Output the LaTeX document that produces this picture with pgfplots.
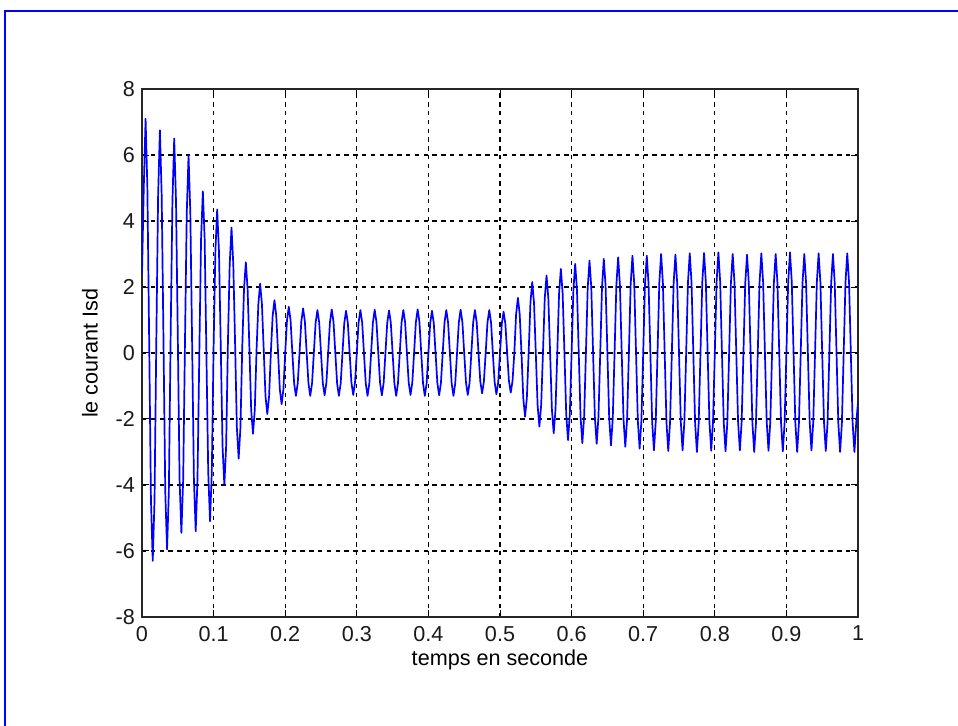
\documentclass[border=0pt]{standalone}
\usepackage{pgfplots}
\pgfplotsset{compat=1.18}
\usepackage{pgfplotstable}
\usepackage{fontspec}
\setmainfont{Liberation Sans}

% stator current isd: one period (20 ms) per row, sampled every 2.5 ms
\pgfplotstableread[row sep=\\]{
t v \\
0 2.4 \\ 0.0025 5.02 \\ 0.005 7.1 \\ 0.0075 5.02 \\ 0.01 0.4 \\ 0.0125 -4.45 \\ 0.015 -6.3 \\ 0.0175 -4.45 \\
0.02 0.4 \\ 0.0225 4.77 \\ 0.025 6.75 \\ 0.0275 4.77 \\ 0.03 0.4 \\ 0.0325 -4.21 \\ 0.035 -5.95 \\ 0.0375 -4.21 \\
0.04 0.5 \\ 0.0425 4.60 \\ 0.045 6.5 \\ 0.0475 4.60 \\ 0.05 0.5 \\ 0.0525 -3.85 \\ 0.055 -5.45 \\ 0.0575 -3.85 \\
0.06 0.3 \\ 0.0625 4.24 \\ 0.065 6.0 \\ 0.0675 4.24 \\ 0.07 0.3 \\ 0.0725 -3.82 \\ 0.075 -5.4 \\ 0.0775 -3.82 \\
0.08 -0.1 \\ 0.0825 3.46 \\ 0.085 4.9 \\ 0.0875 3.46 \\ 0.09 -0.1 \\ 0.0925 -3.61 \\ 0.095 -5.1 \\ 0.0975 -3.61 \\
0.10 0.2 \\ 0.1025 3.08 \\ 0.105 4.35 \\ 0.1075 3.08 \\ 0.11 0.2 \\ 0.1125 -2.83 \\ 0.115 -4.0 \\ 0.1175 -2.83 \\
0.12 0.3 \\ 0.1225 2.69 \\ 0.125 3.8 \\ 0.1275 2.69 \\ 0.13 0.3 \\ 0.1325 -2.26 \\ 0.135 -3.2 \\ 0.1375 -2.26 \\
0.14 0.15 \\ 0.1425 1.94 \\ 0.145 2.75 \\ 0.1475 1.94 \\ 0.15 0.15 \\ 0.1525 -1.73 \\ 0.155 -2.45 \\ 0.1575 -1.73 \\
0.16 0.1 \\ 0.1625 1.48 \\ 0.165 2.1 \\ 0.1675 1.48 \\ 0.17 0.1 \\ 0.1725 -1.31 \\ 0.175 -1.85 \\ 0.1775 -1.31 \\
0.18 0.03 \\ 0.1825 1.13 \\ 0.185 1.6 \\ 0.1875 1.13 \\ 0.19 0.03 \\ 0.1925 -1.10 \\ 0.195 -1.55 \\ 0.1975 -1.10 \\
0.20 0 \\ 0.2025 0.99 \\ 0.205 1.4 \\ 0.2075 0.99 \\ 0.21 0 \\ 0.2125 -0.92 \\ 0.215 -1.3 \\ 0.2175 -0.92 \\
0.22 0 \\ 0.2225 0.95 \\ 0.225 1.35 \\ 0.2275 0.95 \\ 0.23 0 \\ 0.2325 -0.92 \\ 0.235 -1.3 \\ 0.2375 -0.92 \\
0.24 0 \\ 0.2425 0.92 \\ 0.245 1.3 \\ 0.2475 0.92 \\ 0.25 0 \\ 0.2525 -0.905 \\ 0.255 -1.28 \\ 0.2575 -0.905 \\
0.26 0 \\ 0.2625 0.933 \\ 0.265 1.32 \\ 0.2675 0.933 \\ 0.27 0 \\ 0.2725 -0.92 \\ 0.275 -1.3 \\ 0.2775 -0.92 \\
0.28 0 \\ 0.2825 0.905 \\ 0.285 1.28 \\ 0.2875 0.905 \\ 0.29 0 \\ 0.2925 -0.898 \\ 0.295 -1.27 \\ 0.2975 -0.898 \\
0.30 0 \\ 0.3025 0.92 \\ 0.305 1.3 \\ 0.3075 0.92 \\ 0.31 0 \\ 0.3125 -0.92 \\ 0.315 -1.3 \\ 0.3175 -0.92 \\
0.32 0 \\ 0.3225 0.926 \\ 0.325 1.31 \\ 0.3275 0.926 \\ 0.33 0 \\ 0.3325 -0.905 \\ 0.335 -1.28 \\ 0.3375 -0.905 \\
0.34 0 \\ 0.3425 0.912 \\ 0.345 1.29 \\ 0.3475 0.912 \\ 0.35 0 \\ 0.3525 -0.92 \\ 0.355 -1.3 \\ 0.3575 -0.92 \\
0.36 0 \\ 0.3625 0.92 \\ 0.365 1.3 \\ 0.3675 0.92 \\ 0.37 0 \\ 0.3725 -0.898 \\ 0.375 -1.27 \\ 0.3775 -0.898 \\
0.38 0 \\ 0.3825 0.933 \\ 0.385 1.32 \\ 0.3875 0.933 \\ 0.39 0 \\ 0.3925 -0.92 \\ 0.395 -1.3 \\ 0.3975 -0.92 \\
0.40 0 \\ 0.4025 0.905 \\ 0.405 1.28 \\ 0.4075 0.905 \\ 0.41 0 \\ 0.4125 -0.905 \\ 0.415 -1.28 \\ 0.4175 -0.905 \\
0.42 0 \\ 0.4225 0.92 \\ 0.425 1.3 \\ 0.4275 0.92 \\ 0.43 0 \\ 0.4325 -0.92 \\ 0.435 -1.3 \\ 0.4375 -0.92 \\
0.44 0 \\ 0.4425 0.926 \\ 0.445 1.31 \\ 0.4475 0.926 \\ 0.45 0 \\ 0.4525 -0.898 \\ 0.455 -1.27 \\ 0.4575 -0.898 \\
0.46 0 \\ 0.4625 0.92 \\ 0.465 1.3 \\ 0.4675 0.92 \\ 0.47 0 \\ 0.4725 -0.863 \\ 0.475 -1.22 \\ 0.4775 -0.863 \\
0.48 0 \\ 0.4825 0.92 \\ 0.485 1.3 \\ 0.4875 0.92 \\ 0.49 0 \\ 0.4925 -0.884 \\ 0.495 -1.25 \\ 0.4975 -0.884 \\
0.50 0 \\ 0.5025 0.884 \\ 0.505 1.25 \\ 0.5075 0.884 \\ 0.51 0 \\ 0.5125 -0.848 \\ 0.515 -1.2 \\ 0.5175 -0.848 \\
0.52 0 \\ 0.5225 1.18 \\ 0.525 1.67 \\ 0.5275 1.18 \\ 0.53 0 \\ 0.5325 -1.365 \\ 0.535 -1.93 \\ 0.5375 -1.365 \\
0.54 0 \\ 0.5425 1.52 \\ 0.545 2.15 \\ 0.5475 1.52 \\ 0.55 0 \\ 0.5525 -1.577 \\ 0.555 -2.23 \\ 0.5575 -1.577 \\
0.56 0 \\ 0.5625 1.661 \\ 0.565 2.35 \\ 0.5675 1.661 \\ 0.57 0 \\ 0.5725 -1.718 \\ 0.575 -2.43 \\ 0.5775 -1.718 \\
0.58 0 \\ 0.5825 1.803 \\ 0.585 2.55 \\ 0.5875 1.803 \\ 0.59 0 \\ 0.5925 -1.866 \\ 0.595 -2.64 \\ 0.5975 -1.866 \\
0.60 0 \\ 0.6025 1.909 \\ 0.605 2.7 \\ 0.6075 1.909 \\ 0.61 0 \\ 0.6125 -1.93 \\ 0.615 -2.73 \\ 0.6175 -1.93 \\
0.62 0 \\ 0.6225 1.98 \\ 0.625 2.8 \\ 0.6275 1.98 \\ 0.63 0 \\ 0.6325 -1.944 \\ 0.635 -2.75 \\ 0.6375 -1.944 \\
0.64 0 \\ 0.6425 2.015 \\ 0.645 2.85 \\ 0.6475 2.015 \\ 0.65 0 \\ 0.6525 -1.98 \\ 0.655 -2.8 \\ 0.6575 -1.98 \\
0.66 0 \\ 0.6625 2.05 \\ 0.665 2.9 \\ 0.6675 2.05 \\ 0.67 0 \\ 0.6725 -2.008 \\ 0.675 -2.84 \\ 0.6775 -2.008 \\
0.68 0 \\ 0.6825 2.086 \\ 0.685 2.95 \\ 0.6875 2.086 \\ 0.69 0 \\ 0.6925 -2.05 \\ 0.695 -2.9 \\ 0.6975 -2.05 \\
0.70 0 \\ 0.7025 2.086 \\ 0.705 2.95 \\ 0.7075 2.086 \\ 0.71 0 \\ 0.7125 -2.086 \\ 0.715 -2.95 \\ 0.7175 -2.086 \\
0.72 0 \\ 0.7225 2.121 \\ 0.725 3.0 \\ 0.7275 2.121 \\ 0.73 0 \\ 0.7325 -2.1 \\ 0.735 -2.97 \\ 0.7375 -2.1 \\
0.74 0 \\ 0.7425 2.107 \\ 0.745 2.98 \\ 0.7475 2.107 \\ 0.75 0 \\ 0.7525 -2.086 \\ 0.755 -2.95 \\ 0.7575 -2.086 \\
0.76 0 \\ 0.7625 2.135 \\ 0.765 3.02 \\ 0.7675 2.135 \\ 0.77 0 \\ 0.7725 -2.121 \\ 0.775 -3.0 \\ 0.7775 -2.121 \\
0.78 0 \\ 0.7825 2.142 \\ 0.785 3.03 \\ 0.7875 2.142 \\ 0.79 0 \\ 0.7925 -2.093 \\ 0.795 -2.96 \\ 0.7975 -2.093 \\
0.80 0 \\ 0.8025 2.156 \\ 0.805 3.05 \\ 0.8075 2.156 \\ 0.81 0 \\ 0.8125 -2.107 \\ 0.815 -2.98 \\ 0.8175 -2.107 \\
0.82 0 \\ 0.8225 2.121 \\ 0.825 3.0 \\ 0.8275 2.121 \\ 0.83 0 \\ 0.8325 -2.086 \\ 0.835 -2.95 \\ 0.8375 -2.086 \\
0.84 0 \\ 0.8425 2.107 \\ 0.845 2.98 \\ 0.8475 2.107 \\ 0.85 0 \\ 0.8525 -2.121 \\ 0.855 -3.0 \\ 0.8575 -2.121 \\
0.86 0 \\ 0.8625 2.135 \\ 0.865 3.02 \\ 0.8675 2.135 \\ 0.87 0 \\ 0.8725 -2.093 \\ 0.875 -2.96 \\ 0.8775 -2.093 \\
0.88 0 \\ 0.8825 2.121 \\ 0.885 3.0 \\ 0.8875 2.121 \\ 0.89 0 \\ 0.8925 -2.107 \\ 0.895 -2.98 \\ 0.8975 -2.107 \\
0.90 0 \\ 0.9025 2.156 \\ 0.905 3.05 \\ 0.9075 2.156 \\ 0.91 0 \\ 0.9125 -2.121 \\ 0.915 -3.0 \\ 0.9175 -2.121 \\
0.92 0 \\ 0.9225 2.121 \\ 0.925 3.0 \\ 0.9275 2.121 \\ 0.93 0 \\ 0.9325 -2.086 \\ 0.935 -2.95 \\ 0.9375 -2.086 \\
0.94 0 \\ 0.9425 2.135 \\ 0.945 3.02 \\ 0.9475 2.135 \\ 0.95 0 \\ 0.9525 -2.1 \\ 0.955 -2.97 \\ 0.9575 -2.1 \\
0.96 0 \\ 0.9625 2.121 \\ 0.965 3.0 \\ 0.9675 2.121 \\ 0.97 0 \\ 0.9725 -2.121 \\ 0.975 -3.0 \\ 0.9775 -2.121 \\
0.98 0 \\ 0.9825 2.135 \\ 0.985 3.02 \\ 0.9875 2.135 \\ 0.99 0 \\ 0.9925 -2.121 \\ 0.995 -3.0 \\ 0.9975 -2.121 \\
1.0 -1.5 \\
}\isd

\definecolor{mblue}{RGB}{0,0,255}

\begin{document}
\begin{tikzpicture}
  % figure window area and its frame
  \path[use as bounding box] (0,0) rectangle (479pt,363pt);
  \draw[mblue, line width=1.1pt] (2.4pt,0) -- (2.4pt,357.6pt) -- (479pt,357.6pt);
  \begin{axis}[
    at={(71pt,54.5pt)}, anchor=south west,
    scale only axis, width=358pt, height=264pt,
    xmin=0, xmax=1, ymin=-8, ymax=8,
    xtick={0,0.1,0.2,0.3,0.4,0.5,0.6,0.7,0.8,0.9,1},
    xticklabels={0,0.1,0.2,0.3,0.4,0.5,0.6,0.7,0.8,0.9,1},
    ytick={-8,-6,-4,-2,0,2,4,6,8},
    /pgf/number format/assume math mode=true,
    tick align=inside, major tick length=3.5pt,
    tick style={black, line width=0.5pt},
    axis line style={black!85, line width=0.55pt},
    grid=major,
    major grid style={black, line width=0.65pt, dash pattern=on 2.2pt off 2.2pt},
    ticklabel style={font=\fontsize{10.8}{13}\selectfont, black!90},
    xticklabel style={yshift=-1pt},
    label style={font=\fontsize{10.8}{13}\selectfont},
    xlabel={temps en seconde},
    ylabel={le courant Isd},
    xlabel style={at={(axis description cs:0.5,-0.0814)}, anchor=center},
    ylabel style={at={(axis description cs:-0.0726,0.5)}, anchor=center},
  ]
    \addplot[mblue, line width=0.85pt, mark=none, line join=round] table[x=t, y=v] {\isd};
  \end{axis}
\end{tikzpicture}
\end{document}
